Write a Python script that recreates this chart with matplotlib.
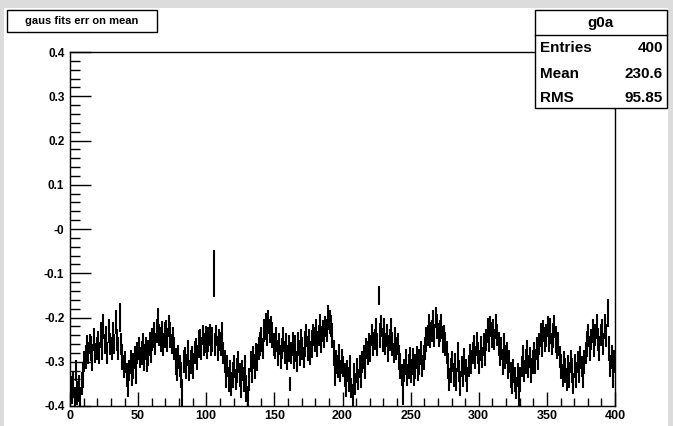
import numpy as np
import matplotlib
matplotlib.use("Agg")
import matplotlib.pyplot as plt
from matplotlib.patches import Rectangle

# bin contents (fitted error on mean per bin)
values = [
    -0.36, -0.37, -0.35, -0.38, -0.32, -0.37, -0.36, -0.38, -0.35, -0.33,
    -0.30, -0.29, -0.27, -0.28, -0.26, -0.27, -0.29, -0.25, -0.28, -0.27,
    -0.26, -0.28, -0.24, -0.27, -0.22, -0.26, -0.25, -0.28, -0.23, -0.26,
    -0.27, -0.24, -0.26, -0.21, -0.25, -0.27, -0.20, -0.26, -0.29, -0.31,
    -0.30, -0.33, -0.35, -0.32, -0.30, -0.33, -0.31, -0.29, -0.32, -0.28,
    -0.27, -0.29, -0.28, -0.26, -0.29, -0.27, -0.30, -0.28, -0.26, -0.28,
    -0.25, -0.24, -0.26, -0.23, -0.21, -0.24, -0.25, -0.23, -0.26, -0.24,
    -0.23, -0.25, -0.22, -0.24, -0.26, -0.25, -0.27, -0.30, -0.32, -0.29,
    -0.31, -0.33, -0.37, -0.30, -0.29, -0.31, -0.28, -0.32, -0.30, -0.29,
    -0.31, -0.28, -0.27, -0.29, -0.26, -0.25, -0.27, -0.24, -0.26, -0.25,
    -0.27, -0.25, -0.24, -0.26, -0.25, -0.10, -0.26, -0.24, -0.27, -0.25,
    -0.26, -0.24, -0.28, -0.30, -0.33, -0.31, -0.34, -0.32, -0.35, -0.33,
    -0.31, -0.34, -0.32, -0.30, -0.33, -0.35, -0.32, -0.34, -0.31, -0.36,
    -0.38, -0.34, -0.30, -0.32, -0.29, -0.31, -0.28, -0.29, -0.27, -0.26,
    -0.25, -0.27, -0.23, -0.22, -0.24, -0.21, -0.23, -0.22, -0.24, -0.26,
    -0.27, -0.25, -0.28, -0.26, -0.29, -0.27, -0.25, -0.28, -0.26, -0.29,
    -0.27, -0.35, -0.28, -0.26, -0.29, -0.27, -0.30, -0.26, -0.28, -0.25,
    -0.27, -0.29, -0.26, -0.24, -0.27, -0.25, -0.28, -0.26, -0.24, -0.25,
    -0.23, -0.26, -0.24, -0.22, -0.25, -0.23, -0.24, -0.22, -0.23, -0.20,
    -0.21, -0.22, -0.24, -0.28, -0.33, -0.30, -0.31, -0.29, -0.32, -0.30,
    -0.31, -0.33, -0.35, -0.32, -0.34, -0.31, -0.36, -0.38, -0.33, -0.35,
    -0.32, -0.34, -0.31, -0.33, -0.30, -0.29, -0.31, -0.27, -0.28, -0.26,
    -0.27, -0.24, -0.26, -0.25, -0.23, -0.26, -0.15, -0.24, -0.22, -0.25,
    -0.23, -0.26, -0.24, -0.27, -0.25, -0.23, -0.26, -0.28, -0.25, -0.27,
    -0.26, -0.29, -0.31, -0.33, -0.37, -0.32, -0.30, -0.33, -0.31, -0.29,
    -0.32, -0.30, -0.33, -0.31, -0.29, -0.32, -0.30, -0.28, -0.31, -0.29,
    -0.27, -0.25, -0.24, -0.22, -0.24, -0.23, -0.21, -0.24, -0.20, -0.22,
    -0.24, -0.23, -0.22, -0.25, -0.24, -0.26, -0.28, -0.31, -0.34, -0.32,
    -0.30, -0.33, -0.31, -0.34, -0.29, -0.32, -0.35, -0.31, -0.33, -0.30,
    -0.32, -0.34, -0.31, -0.29, -0.30, -0.28, -0.27, -0.29, -0.26, -0.28,
    -0.30, -0.27, -0.29, -0.26, -0.28, -0.25, -0.23, -0.25, -0.22, -0.24,
    -0.23, -0.25, -0.22, -0.24, -0.26, -0.28, -0.27, -0.30, -0.26, -0.29,
    -0.28, -0.31, -0.30, -0.33, -0.35, -0.32, -0.34, -0.36, -0.33, -0.38,
    -0.34, -0.31, -0.29, -0.32, -0.30, -0.28, -0.31, -0.29, -0.32, -0.30,
    -0.28, -0.30, -0.27, -0.29, -0.26, -0.24, -0.26, -0.23, -0.25, -0.24,
    -0.22, -0.25, -0.23, -0.26, -0.24, -0.22, -0.25, -0.27, -0.26, -0.29,
    -0.31, -0.33, -0.30, -0.32, -0.34, -0.31, -0.33, -0.30, -0.32, -0.35,
    -0.31, -0.33, -0.30, -0.32, -0.29, -0.31, -0.33, -0.30, -0.28, -0.26,
    -0.24, -0.27, -0.25, -0.23, -0.26, -0.24, -0.22, -0.25, -0.27, -0.24,
    -0.23, -0.26, -0.22, -0.24, -0.19, -0.27, -0.31, -0.29, -0.33, -0.30,
]

# bin errors
errors = [
    0.028, 0.025, 0.030, 0.022, 0.024, 0.027, 0.031, 0.023, 0.026, 0.029,
    0.024, 0.027, 0.030, 0.025, 0.022, 0.028, 0.031, 0.026, 0.023, 0.027,
    0.029, 0.024, 0.030, 0.026, 0.028, 0.023, 0.031, 0.025, 0.027, 0.024,
    0.026, 0.030, 0.023, 0.028, 0.025, 0.027, 0.032, 0.024, 0.029, 0.026,
    0.025, 0.028, 0.030, 0.023, 0.027, 0.024, 0.029, 0.026, 0.031, 0.025,
    0.027, 0.023, 0.028, 0.025, 0.030, 0.026, 0.024, 0.029, 0.027, 0.022,
    0.026, 0.029, 0.024, 0.027, 0.031, 0.025, 0.028, 0.023, 0.026, 0.030,
    0.024, 0.027, 0.025, 0.029, 0.022, 0.028, 0.026, 0.030, 0.024, 0.027,
    0.025, 0.029, 0.031, 0.026, 0.024, 0.028, 0.030, 0.023, 0.027, 0.025,
    0.029, 0.026, 0.024, 0.028, 0.031, 0.025, 0.027, 0.023, 0.026, 0.030,
    0.024, 0.028, 0.025, 0.027, 0.029, 0.053, 0.026, 0.024, 0.028, 0.025,
    0.027, 0.030, 0.024, 0.026, 0.029, 0.025, 0.028, 0.023, 0.027, 0.030,
    0.026, 0.024, 0.029, 0.025, 0.027, 0.031, 0.024, 0.028, 0.026, 0.030,
    0.025, 0.027, 0.024, 0.029, 0.026, 0.028, 0.023, 0.030, 0.025, 0.027,
    0.029, 0.024, 0.026, 0.031, 0.025, 0.028, 0.027, 0.023, 0.029, 0.026,
    0.024, 0.028, 0.030, 0.025, 0.027, 0.023, 0.029, 0.026, 0.024, 0.028,
    0.030, 0.015, 0.025, 0.028, 0.026, 0.031, 0.024, 0.027, 0.029, 0.025,
    0.027, 0.024, 0.030, 0.026, 0.028, 0.023, 0.027, 0.031, 0.025, 0.028,
    0.026, 0.029, 0.024, 0.027, 0.030, 0.025, 0.028, 0.023, 0.026, 0.029,
    0.027, 0.025, 0.028, 0.030, 0.024, 0.027, 0.026, 0.029, 0.025, 0.028,
    0.024, 0.027, 0.030, 0.025, 0.028, 0.026, 0.023, 0.029, 0.027, 0.025,
    0.028, 0.024, 0.026, 0.030, 0.025, 0.027, 0.029, 0.024, 0.028, 0.026,
    0.030, 0.025, 0.027, 0.024, 0.029, 0.026, 0.022, 0.028, 0.025, 0.027,
    0.029, 0.024, 0.026, 0.030, 0.025, 0.028, 0.027, 0.023, 0.029, 0.026,
    0.025, 0.028, 0.030, 0.024, 0.027, 0.026, 0.029, 0.025, 0.028, 0.024,
    0.027, 0.030, 0.025, 0.028, 0.026, 0.023, 0.029, 0.027, 0.025, 0.028,
    0.026, 0.029, 0.024, 0.027, 0.030, 0.025, 0.028, 0.026, 0.024, 0.029,
    0.027, 0.025, 0.028, 0.030, 0.024, 0.027, 0.026, 0.029, 0.025, 0.028,
    0.024, 0.027, 0.029, 0.026, 0.034, 0.025, 0.028, 0.024, 0.027, 0.030,
    0.026, 0.028, 0.025, 0.029, 0.027, 0.024, 0.030, 0.026, 0.028, 0.025,
    0.027, 0.029, 0.024, 0.026, 0.030, 0.025, 0.028, 0.027, 0.023, 0.029,
    0.026, 0.024, 0.028, 0.025, 0.027, 0.030, 0.026, 0.029, 0.024, 0.027,
    0.025, 0.028, 0.026, 0.030, 0.024, 0.027, 0.029, 0.025, 0.028, 0.026,
    0.029, 0.024, 0.027, 0.025, 0.028, 0.030, 0.026, 0.023, 0.029, 0.027,
    0.025, 0.028, 0.026, 0.029, 0.024, 0.027, 0.030, 0.025, 0.028, 0.026,
    0.024, 0.027, 0.029, 0.025, 0.028, 0.026, 0.030, 0.024, 0.027, 0.025,
    0.028, 0.026, 0.024, 0.029, 0.027, 0.025, 0.030, 0.026, 0.028, 0.024,
    0.027, 0.029, 0.025, 0.028, 0.026, 0.024, 0.030, 0.027, 0.025, 0.029,
    0.026, 0.028, 0.024, 0.027, 0.030, 0.025, 0.028, 0.026, 0.029, 0.025,
    0.027, 0.024, 0.029, 0.026, 0.032, 0.028, 0.025, 0.027, 0.030, 0.026,
]

hist_title = "gaus fits err on mean"
stats_name = "g0a"
stats_rows = [("Entries", "400"), ("Mean", "230.6"), ("RMS", "95.85")]
x_ticks = [0, 50, 100, 150, 200, 250, 300, 350, 400]
y_ticks = [-0.4, -0.3, -0.2, -0.1, 0.0, 0.1, 0.2, 0.3, 0.4]
y_tick_labels = ["-0.4", "-0.3", "-0.2", "-0.1", "-0", "0.1", "0.2", "0.3", "0.4"]

plt.rcParams['font.family'] = ['Liberation Sans Narrow', 'Liberation Sans', 'DejaVu Sans']

W, H = 673, 426
fig = plt.figure(figsize=(W / 100, H / 100), dpi=100, facecolor="#dcdcdc")

# white canvas inside the grey frame
canvas = Rectangle((4 / W, 0), (W - 9) / W, (H - 8) / H,
                   transform=fig.transFigure, facecolor="white",
                   edgecolor="none", zorder=-10)
fig.add_artist(canvas)

ax = fig.add_axes([70 / W, (H - 406) / H, 545 / W, 354 / H])
ax.set_zorder(1)
ax.set_facecolor("white")

centers = np.arange(len(values)) + 0.5
ax.errorbar(centers, values, yerr=errors, xerr=0.5, fmt="none",
            ecolor="black", elinewidth=1.5, capsize=0)

ax.set_xlim(0, 400)
ax.set_ylim(-0.4, 0.4)

ax.set_xticks(x_ticks)
ax.set_xticks(np.arange(0, 401, 10), minor=True)
ax.set_yticks(y_ticks)
ax.set_yticklabels(y_tick_labels)
ax.set_yticks(np.arange(-0.4, 0.401, 0.02), minor=True)

ax.tick_params(axis="both", which="both", direction="in", color="black",
               width=1.0, top=False, right=False)
ax.tick_params(axis="x", which="major", length=10, labelsize=9, pad=3)
ax.tick_params(axis="x", which="minor", length=6)
ax.tick_params(axis="y", which="major", length=15, labelsize=8.5, pad=4)
ax.tick_params(axis="y", which="minor", length=7)
for lab in ax.get_xticklabels() + ax.get_yticklabels():
    lab.set_fontweight("bold")

for s in ax.spines.values():
    s.set_linewidth(1.0)
    s.set_color("black")

# title box
title_box = Rectangle((7 / W, 1 - 32 / H), 150 / W, 22 / H,
                      transform=fig.transFigure, facecolor="white",
                      edgecolor="black", linewidth=1.0, zorder=5)
fig.add_artist(title_box)
fig.text(82 / W, 1 - 21 / H, hist_title, ha="center", va="center",
         fontsize=8, fontweight="bold", zorder=6)

# stats box
bx0, bx1, by0, by1 = 535, 667, 10, 108
stats_box = Rectangle((bx0 / W, 1 - by1 / H), (bx1 - bx0) / W,
                      (by1 - by0) / H, transform=fig.transFigure,
                      facecolor="white", edgecolor="black",
                      linewidth=1.0, zorder=5)
fig.add_artist(stats_box)
fig.add_artist(plt.Line2D([bx0 / W, bx1 / W], [1 - 35 / H, 1 - 35 / H],
                          transform=fig.transFigure, color="black",
                          linewidth=1.0, zorder=6))
fig.text((bx0 + bx1) / 2 / W, 1 - 23 / H, stats_name, ha="center",
         va="center", fontsize=11, fontweight="bold", zorder=6)
row_y = [48, 74, 98]
for (lab, val), yy in zip(stats_rows, row_y):
    fig.text((bx0 + 5) / W, 1 - yy / H, lab, ha="left", va="center",
             fontsize=11, fontweight="bold", zorder=6)
    fig.text((bx1 - 4) / W, 1 - yy / H, val, ha="right", va="center",
             fontsize=11, fontweight="bold", zorder=6)

fig.savefig("out.png", dpi=100, facecolor=fig.get_facecolor())
